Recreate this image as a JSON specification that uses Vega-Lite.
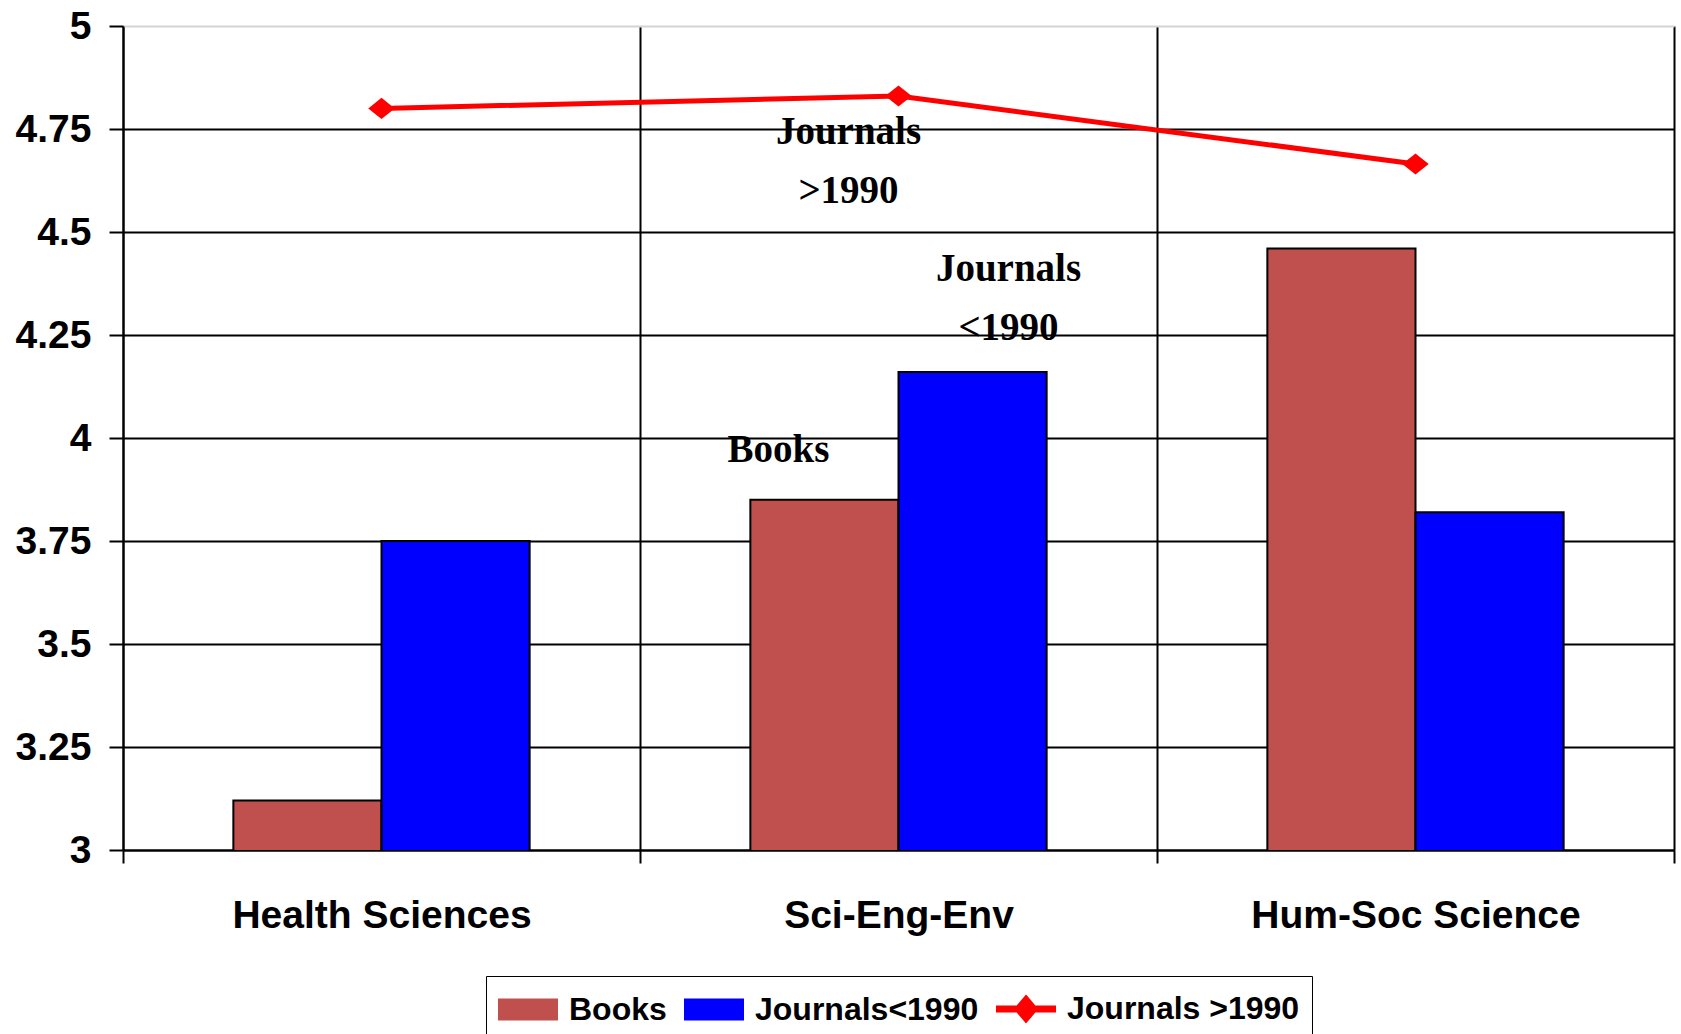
{
  "$schema": "https://vega.github.io/schema/vega-lite/v6.json",
  "width": 1551,
  "height": 824,
  "autosize": {"type": "none"},
  "padding": {"left": 123, "top": 26, "right": 7, "bottom": 184},
  "background": "white",
  "config": {
    "view": {"stroke": "#D4D4D4", "strokeWidth": 1},
    "font": "Liberation Sans"
  },
  "datasets": {
    "bars": [
      {"cat": "Health Sciences", "series": "Books", "value": 3.12},
      {"cat": "Health Sciences", "series": "Journals<1990", "value": 3.75},
      {"cat": "Sci-Eng-Env", "series": "Books", "value": 3.85},
      {"cat": "Sci-Eng-Env", "series": "Journals<1990", "value": 4.16},
      {"cat": "Hum-Soc Science", "series": "Books", "value": 4.46},
      {"cat": "Hum-Soc Science", "series": "Journals<1990", "value": 3.82}
    ],
    "line": [
      {"cat": "Health Sciences", "series": "Journals >1990", "value": 4.8},
      {"cat": "Sci-Eng-Env", "series": "Journals >1990", "value": 4.83},
      {"cat": "Hum-Soc Science", "series": "Journals >1990", "value": 4.665}
    ],
    "notes": [
      {"cat": "Sci-Eng-Env", "note": "j90plus", "label": ["Journals", ">1990"], "value": 4.7425},
      {"cat": "Sci-Eng-Env", "note": "j90minus", "label": ["Journals", "<1990"], "value": 4.41},
      {"cat": "Sci-Eng-Env", "note": "books", "label": "Books", "value": 3.97}
    ]
  },
  "encoding": {
    "x": {
      "field": "cat",
      "type": "nominal",
      "sort": ["Health Sciences", "Sci-Eng-Env", "Hum-Soc Science"],
      "scale": {"paddingInner": 0, "paddingOuter": 0},
      "axis": {
        "title": null,
        "labelAngle": 0,
        "labelFont": "Liberation Sans",
        "labelFontSize": 39,
        "labelFontWeight": "bold",
        "labelColor": "black",
        "labelLimit": 0,
        "labelPadding": 33,
        "tickBand": "extent",
        "tickSize": 13,
        "tickColor": "black",
        "tickWidth": 2,
        "domainColor": "black",
        "domainWidth": 2,
        "grid": true,
        "gridColor": "black",
        "gridWidth": 2
      }
    },
    "y": {
      "field": "value",
      "type": "quantitative",
      "scale": {"domain": [3, 5], "zero": false, "nice": false},
      "axis": {
        "title": null,
        "values": [3, 3.25, 3.5, 3.75, 4, 4.25, 4.5, 4.75, 5],
        "labelExpr": "format(datum.value, '.3~g')",
        "labelFont": "Liberation Sans",
        "labelFontSize": 39,
        "labelFontWeight": "bold",
        "labelColor": "black",
        "labelPadding": 18,
        "tickSize": 14,
        "tickColor": "black",
        "tickWidth": 2,
        "domainColor": "black",
        "domainWidth": 2,
        "grid": true,
        "gridColor": {"condition": {"test": "datum.value === 5", "value": "#D4D4D4"}, "value": "black"},
        "gridWidth": 2
      }
    }
  },
  "layer": [
    {
      "data": {"name": "bars"},
      "mark": {"type": "bar", "stroke": "black", "strokeWidth": 2, "clip": true},
      "encoding": {
        "xOffset": {
          "field": "series",
          "type": "nominal",
          "scale": {"domain": ["Books", "Journals<1990"], "paddingOuter": 0.745, "paddingInner": 0}
        },
        "color": {
          "field": "series",
          "type": "nominal",
          "scale": {
            "domain": ["Books", "Journals<1990", "Journals >1990"],
            "range": ["#C0504D", "#0000FF", "#FF0000"]
          },
          "legend": {
            "title": null,
            "orient": "none",
            "legendX": 363,
            "legendY": 950,
            "direction": "horizontal",
            "labelFont": "Liberation Sans",
            "labelFontSize": 32,
            "labelFontWeight": "bold",
            "labelColor": "black",
            "labelLimit": 0,
            "labelOffset": 20,
            "symbolOffset": 9,
            "columnPadding": 14,
            "symbolSize": 1600,
            "symbolType": {"expr": "datum.value === 'Journals >1990' ? 'M-1.45,-0.125H1.45V0.125H-1.45Z M0,-0.65L0.55,0L0,0.65L-0.55,0Z' : 'M-1.45,-0.5H1.45V0.5H-1.45Z'"},
            "symbolStrokeColor": {"expr": "datum.value === 'Journals >1990' ? 'transparent' : 'black'"},
            "symbolStrokeWidth": 2,
            "symbolOpacity": 1,
            "padding": 12,
            "strokeColor": "black"
          }
        }
      }
    },
    {
      "data": {"name": "line"},
      "mark": {"type": "line", "strokeWidth": 5},
      "encoding": {
        "color": {"field": "series", "type": "nominal"}
      }
    },
    {
      "data": {"name": "line"},
      "mark": {"type": "point", "shape": "M-1,0L0,-0.8L1,0L0,0.8Z", "filled": true, "size": 700, "opacity": 1},
      "encoding": {
        "color": {"field": "series", "type": "nominal"}
      }
    },
    {
      "data": {"name": "notes"},
      "transform": [{"filter": "datum.note === 'j90plus'"}],
      "mark": {"type": "text", "font": "Liberation Serif", "fontSize": 39, "fontWeight": "bold", "color": "black", "lineHeight": 59, "baseline": "middle", "align": "center", "dx": -50},
      "encoding": {"text": {"field": "label"}}
    },
    {
      "data": {"name": "notes"},
      "transform": [{"filter": "datum.note === 'j90minus'"}],
      "mark": {"type": "text", "font": "Liberation Serif", "fontSize": 39, "fontWeight": "bold", "color": "black", "lineHeight": 59, "baseline": "middle", "align": "center", "dx": 110},
      "encoding": {"text": {"field": "label"}}
    },
    {
      "data": {"name": "notes"},
      "transform": [{"filter": "datum.note === 'books'"}],
      "mark": {"type": "text", "font": "Liberation Serif", "fontSize": 39, "fontWeight": "bold", "color": "black", "baseline": "middle", "align": "center", "dx": -120},
      "encoding": {"text": {"field": "label"}}
    }
  ]
}
